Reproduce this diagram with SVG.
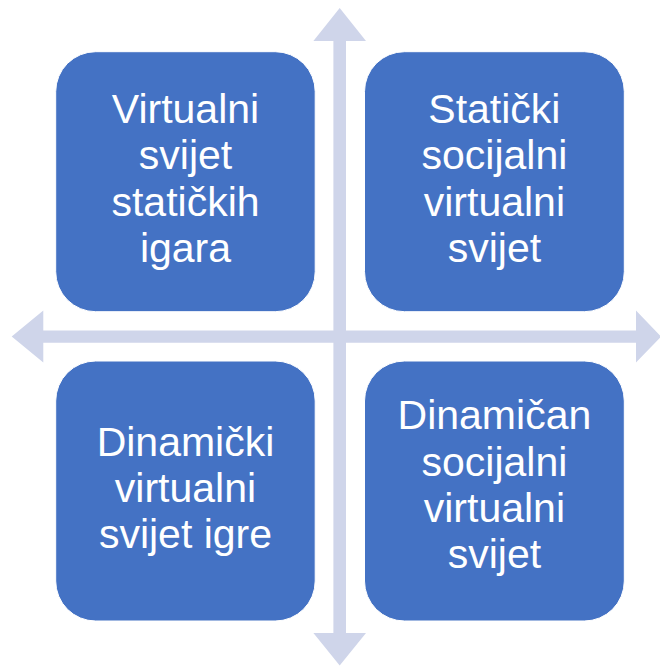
<svg xmlns="http://www.w3.org/2000/svg" width="660" height="666" viewBox="0 0 660 666">
<style>
.arrow{fill:#CFD5EA;stroke:none}
.box{fill:#4472C4;stroke:#FFFFFF;stroke-width:1}
.lbl{fill:#FFFFFF;font-family:"Liberation Sans",Arial,sans-serif;font-size:41px;text-anchor:middle}
</style>
<rect width="660" height="666" fill="#FFFFFF"/>
<g id="connectors">
<polygon class="arrow" points="339.7,8 366,41 346,41 346,633 366,633 339.7,665.5 313.4,633 333.4,633 333.4,41 313.4,41"/>
<polygon class="arrow" points="11.7,336.6 43.3,310.6 43.3,330.5 636,330.5 636,310.6 661,336.6 636,362.6 636,342.7 43.3,342.7 43.3,362.6"/>
</g>
<g id="node-tl">
<rect class="box" x="55.7" y="51.7" width="259.5" height="260" rx="40" ry="40"/>
<text class="lbl" x="185.5"><tspan x="185.5" y="123">Virtualni</tspan><tspan x="185.5" y="169.3">svijet</tspan><tspan x="185.5" y="215.6">statičkih</tspan><tspan x="185.5" y="261.9">igara</tspan></text>
</g>
<g id="node-tr">
<rect class="box" x="364.5" y="51.7" width="259.8" height="260" rx="40" ry="40"/>
<text class="lbl"><tspan x="494.4" y="123">Statički</tspan><tspan x="494.4" y="169.3">socijalni</tspan><tspan x="494.4" y="215.6">virtualni</tspan><tspan x="494.4" y="261.9">svijet</tspan></text>
</g>
<g id="node-bl">
<rect class="box" x="55.7" y="361" width="259.5" height="260" rx="40" ry="40"/>
<text class="lbl"><tspan x="185.5" y="455.5">Dinamički</tspan><tspan x="185.5" y="501.8">virtualni</tspan><tspan x="185.5" y="548.1">svijet igre</tspan></text>
</g>
<g id="node-br">
<rect class="box" x="364.5" y="361" width="259.8" height="260" rx="40" ry="40"/>
<text class="lbl"><tspan x="494.4" y="429.3">Dinamičan</tspan><tspan x="494.4" y="475.6">socijalni</tspan><tspan x="494.4" y="521.9">virtualni</tspan><tspan x="494.4" y="568.2">svijet</tspan></text>
</g>
</svg>
